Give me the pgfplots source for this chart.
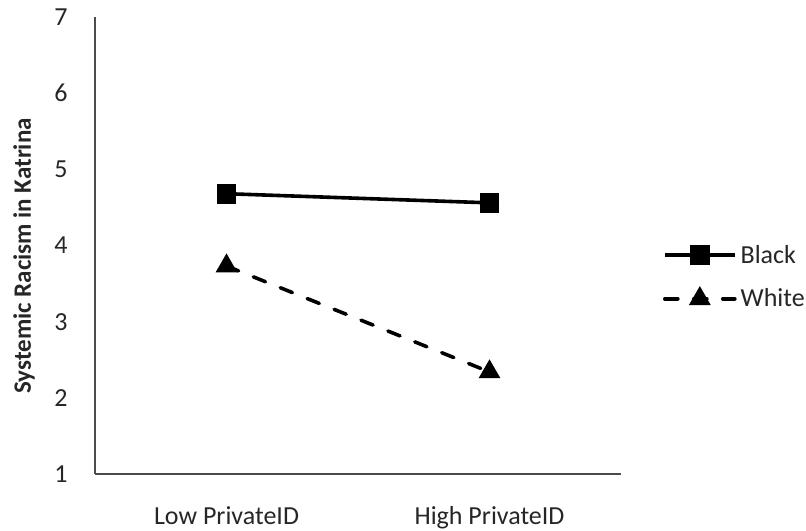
\documentclass[border=0pt]{standalone}
\usepackage{fontspec}
\setmainfont{Carlito}
\usepackage{pgfplots}
\pgfplotsset{compat=1.18}
\begin{document}
\begin{tikzpicture}[x=1bp,y=1bp]
\useasboundingbox (0,0) rectangle (806,531);
\begin{axis}[
  at={(95bp,57bp)}, anchor=south west,
  scale only axis, width=526bp, height=457bp,
  xmin=-0.5, xmax=1.5, ymin=1, ymax=7,
  axis lines=left,
  axis line style={-, draw=black!70, line width=1.1bp},
  xtick={0,1}, xticklabels={Low PrivateID, High PrivateID},
  ytick={1,2,3,4,5,6,7},
  major tick length=0pt,
  /pgf/number format/assume math mode=true,
  tick label style={font=\fontsize{26bp}{30bp}\selectfont, text=black!85},
  yticklabel style={xshift=-24bp},
  xticklabel style={yshift=-29bp},
  ylabel={\textbf{Systemic Racism in Katrina}},
  ylabel style={font=\fontsize{25bp}{30bp}\selectfont, text=black!85, at={(axis description cs:-0.135,0.477)}, anchor=center},
  clip=false,
  legend style={draw=none, fill=none, at={(1.0795,0.505)}, anchor=north west, inner sep=0pt, row sep=20bp,
    font=\fontsize{26bp}{30bp}\selectfont, text=black!85, cells={anchor=west}, nodes={inner xsep=4bp}},
  legend cell align=left,
  legend image code/.code={\draw[mark repeat=2,mark phase=2] plot coordinates {(0bp,0bp) (35bp,0bp) (70bp,0bp)};},
]
\addplot[black, line width=3.6bp, mark=square*, mark size=8bp, mark options={solid}] coordinates {(0,4.68) (1,4.56)};
\addlegendentry{Black}
\addplot[black, line width=3.6bp, dash pattern=on 13bp off 16bp, line cap=round, mark=triangle*, mark size=9bp, mark options={solid}] coordinates {(0,3.73) (1,2.34)};
\addlegendentry{White}
\end{axis}
\end{tikzpicture}
\end{document}
